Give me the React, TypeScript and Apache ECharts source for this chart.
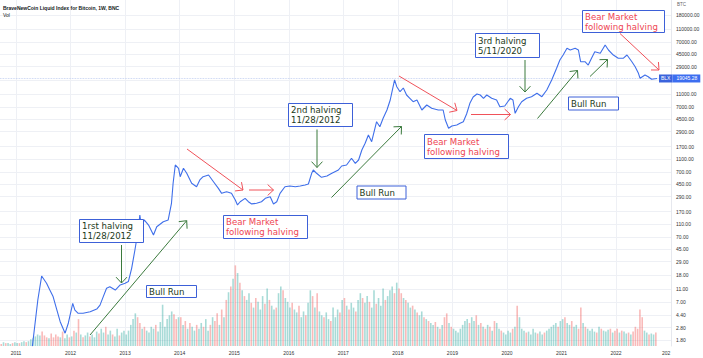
import React, { useEffect, useRef } from "react";
import * as echarts from "echarts";

// Weekly close line of the BraveNewCoin Liquid Index (decimal year, USD)
const priceDates = [
  2011.30, 2011.40, 2011.47, 2011.56, 2011.62, 2011.68, 2011.75, 2011.81, 2011.90, 2011.96,
  2012.04, 2012.08, 2012.14, 2012.23, 2012.36, 2012.48, 2012.54, 2012.60, 2012.66, 2012.72,
  2012.82, 2012.91, 2013.00, 2013.06, 2013.12, 2013.18, 2013.24, 2013.27, 2013.30, 2013.35,
  2013.43, 2013.52, 2013.58, 2013.70, 2013.79, 2013.85, 2013.88, 2013.92, 2013.98, 2014.01,
  2014.07, 2014.13, 2014.22, 2014.31, 2014.37, 2014.43, 2014.53, 2014.62, 2014.71, 2014.77,
  2014.86, 2014.95, 2015.02, 2015.06, 2015.11, 2015.20, 2015.26, 2015.32, 2015.41, 2015.50,
  2015.57, 2015.66, 2015.72, 2015.78, 2015.84, 2015.93, 2016.02, 2016.12, 2016.21, 2016.30,
  2016.36, 2016.42, 2016.45, 2016.51, 2016.60, 2016.70, 2016.79, 2016.91, 2016.97, 2017.06,
  2017.15, 2017.22, 2017.28, 2017.34, 2017.40, 2017.46, 2017.52, 2017.61, 2017.67, 2017.73,
  2017.80, 2017.86, 2017.90, 2017.94, 2017.98, 2018.04, 2018.10, 2018.16, 2018.22, 2018.28,
  2018.35, 2018.44, 2018.53, 2018.62, 2018.74, 2018.83, 2018.87, 2018.93, 2018.99, 2019.08,
  2019.14, 2019.20, 2019.26, 2019.32, 2019.38, 2019.45, 2019.51, 2019.57, 2019.63, 2019.72,
  2019.81, 2019.87, 2019.96, 2020.06, 2020.11, 2020.15, 2020.21, 2020.27, 2020.36, 2020.45,
  2020.55, 2020.64, 2020.73, 2020.82, 2020.91, 2020.97, 2021.03, 2021.10, 2021.16, 2021.25,
  2021.31, 2021.35, 2021.43, 2021.49, 2021.55, 2021.61, 2021.71, 2021.80, 2021.86, 2021.95,
  2022.04, 2022.13, 2022.20, 2022.29, 2022.35, 2022.41, 2022.44, 2022.53, 2022.59, 2022.65,
  2022.75,
];
const prices = [
  1.45, 7.45, 17.4, 13.5, 10.6, 8.4, 5.2, 3.45, 2.3, 3.3,
  6.6, 5.2, 4.65, 4.65, 4.9, 5.4, 6.2, 8.4, 11.3, 11.9,
  10.6, 12.7, 13.5, 14.3, 22.9, 43.8, 89, 151, 100, 127,
  106, 74.5, 100, 119, 127, 229, 465, 890, 791, 588,
  791, 663, 465, 412, 523, 588, 624, 492, 389, 326,
  345, 326, 257, 216, 242, 273, 242, 224, 229, 242,
  273, 289, 224, 242, 326, 412, 423, 412, 423, 438,
  454, 663, 745, 663, 575, 602, 663, 745, 859, 890,
  1128, 944, 1062, 1513, 1919, 2575, 2030, 4125, 3453, 4650,
  6240, 8895, 12680, 18070, 14250, 11930, 13600, 10620, 9440, 8380,
  8895, 6240, 7450, 6625, 6240, 6240, 4380, 3265, 3540, 3670,
  3892, 4125, 5420, 7910, 9890, 11000, 10620, 9440, 10620, 9440,
  8895, 7020, 7190, 9440, 8895, 5550, 7020, 8380, 9440, 10000,
  11280, 10000, 12680, 18070, 27350, 36720, 43750, 55480, 52260, 55480,
  52260, 34510, 34510, 30700, 38930, 49220, 46470, 62420, 52260, 43750,
  38930, 38930, 43750, 34510, 28910, 22900, 19190, 21570, 20280, 18530,
  19045.28,
];

// Price-scale tick labels (log scale) and year ticks
const priceTicks = [
  1.8, 2.8, 4.4, 7, 11, 18, 29, 45, 70, 110, 170, 290, 450, 700, 1100, 1700,
  2900, 4500, 7000, 11000, 18000, 29000, 45000, 70000, 110000, 180000,
];
const yearTicks = [2011, 2012, 2013, 2014, 2015, 2016, 2017, 2018, 2019, 2020, 2021, 2022];

// Volume per half-month bucket (relative units); sign: + up week, - down week
const vol2010 = [3, -2, 4, -3, 3, 2, -3, 4]; // from mid-Sep 2010
const vol2011 = [3, -3, 4, 5, -4, 5, 7, 8, 10, 12, 11, -15, -11, -9, 8, -13, -9, -12, -10, 9, -15, 8, 12, -9];
const vol2012 = [10, -16, 14, -28, 12, -9, 11, 14, -10, 12, 9, 15, -13, 18, 14, -20, 12, 16, -12, 10, 18, -11, 14, 16];
const vol2013 = [12, 16, 22, 28, 34, -30, -24, 18, -20, 16, 14, 20, 18, -22, 15, 25, 43, 20, 28, 32, 36, -33, -28, 30];
const vol2014 = [-30, 22, -26, 18, -24, 20, 16, -22, 18, 24, -20, 28, 16, -22, 30, -26, -34, 22, -38, 30, -48, 56, -62, 70];
const vol2015 = [-84, 76, -66, 58, -52, 48, 55, -45, 40, -50, 46, 38, 52, -44, 60, -48, 42, 38, -40, 55, 62, -58, 50, 46];
const vol2016 = [40, -45, 38, 35, -42, 30, 36, -32, 45, 58, -52, 40, -55, 36, 32, -30, 35, 28, -26, 40, 30, 38, -35, 48];
const vol2017 = [-50, 42, -38, 45, 40, -36, 48, 55, -50, 45, 52, -46, 40, 58, -44, 50, 42, 60, -48, 52, 58, 62, -55, 66];
const vol2018 = [-60, -55, 50, -48, 45, 40, -42, 38, -35, 32, 36, -30, 28, -26, 24, 22, -25, 20, -18, 22, -30, -34, 24, -20];
const vol2019 = [18, 16, 14, 18, 22, 26, 28, -24, 30, 26, -32, 22, -24, 20, -18, 22, -20, 16, -26, 24, 18, -16, 14, 12];
const vol2020 = [16, 14, -18, 20, -42, 30, 18, 16, -14, 15, 12, 18, 14, -13, 15, 12, -14, 16, 18, 20, 22, 24, -20, 26];
const vol2021 = [28, -30, 24, 22, -26, 20, 22, -18, -40, 24, -20, 18, 16, 18, 15, -14, 20, -18, 16, 15, 17, -18, 14, -16];
const vol2022 = [-18, 14, -16, 15, 13, -14, 12, -15, -20, -18, -38, -30, 16, 14, -12, 13, 12, -14];

const volumeYears: [number, number, number[]][] = [
  [2010, 16, vol2010], [2011, 0, vol2011], [2012, 0, vol2012], [2013, 0, vol2013],
  [2014, 0, vol2014], [2015, 0, vol2015], [2016, 0, vol2016], [2017, 0, vol2017],
  [2018, 0, vol2018], [2019, 0, vol2019], [2020, 0, vol2020], [2021, 0, vol2021],
  [2022, 0, vol2022],
];

const X_MIN = 2010.7067;
const X_MAX = 2023.007;
const PRICE_MIN = 1.46;
const PRICE_MAX = 307300;

const BOX = "#3d60d8";
const RED = "#ee4452";
const RED_ARROW = "#f0525a";
const GREEN_TEXT = "#1c3a20";
const GREEN_ARROW = "#3b7a3d";
const FONT = '"DejaVu Sans", Verdana, sans-serif';
const SMALL = "Liberation Sans, Arial, sans-serif";

function arrow(x1: number, y1: number, x2: number, y2: number, color: string) {
  const ang = Math.atan2(y2 - y1, x2 - x1);
  const len = 8;
  const spread = 0.75;
  const p1 = [x2 - len * Math.cos(ang - spread), y2 - len * Math.sin(ang - spread)];
  const p2 = [x2 - len * Math.cos(ang + spread), y2 - len * Math.sin(ang + spread)];
  return [
    { type: "line", z: 100, silent: true, shape: { x1, y1, x2, y2 }, style: { stroke: color, lineWidth: 1 } },
    { type: "polyline", z: 100, silent: true, shape: { points: [p1, [x2, y2], p2] }, style: { stroke: color, fill: null, lineWidth: 1 } },
  ];
}

function callout(x: number, y: number, w: number, h: number, text: string, color: string) {
  return [
    { type: "rect", z: 100, silent: true, shape: { x: x + 0.5, y: y + 0.5, width: w, height: h }, style: { fill: "#ffffff", stroke: BOX, lineWidth: 1 } },
    {
      type: "text", z: 101, silent: true, x: x + 3, y: y + h / 2 + 0.5,
      style: { text, fill: color, fontSize: 8.6, fontFamily: FONT, align: "left", verticalAlign: "middle", lineHeight: 10 },
    },
  ];
}

export default function App() {
  const ref = useRef<HTMLDivElement>(null);
  useEffect(() => {
    if (!ref.current) return;
    const chart = echarts.init(ref.current, undefined, { renderer: "svg" });
    const last = prices[prices.length - 1];
    const lineData = priceDates.map((d, i) => [d, Math.log10(prices[i])]);
    const volData: any[] = [];
    volumeYears.forEach(([yr, off, arr]) => {
      arr.forEach((v, k) => {
        volData.push({
          value: [yr + (k + off + 0.5) / 24, Math.abs(v)],
          itemStyle: { color: v >= 0 ? "rgba(38,166,154,0.4)" : "rgba(239,83,80,0.4)" },
        });
      });
    });
    const tickLogs = priceTicks.map((v) => Math.log10(v));
    // the label hidden behind the last-price tag
    const labelLogs = tickLogs.filter((l) => Math.abs(l - Math.log10(last)) > 0.06);

    const elements: any[] = [
      ...callout(79, 219, 64, 23, "1rst halving\n11/28/2012", GREEN_TEXT),
      ...arrow(121.5, 245, 121.5, 283, GREEN_ARROW),
      ...arrow(90, 335, 186.7, 220.7, GREEN_ARROW),
      ...callout(146, 285, 50, 12, "Bull Run", GREEN_TEXT),
      ...arrow(187, 149, 243, 190, RED_ARROW),
      ...arrow(249, 190, 273.5, 190, RED_ARROW),
      ...callout(223, 215, 84, 23, "Bear Market\nfollowing halving", RED),
      ...callout(288, 103, 64, 23, "2nd halving\n11/28/2012", GREEN_TEXT),
      ...arrow(317, 129.5, 317, 167.5, GREEN_ARROW),
      ...arrow(331.5, 197.5, 401.5, 126.5, GREEN_ARROW),
      ...callout(356.5, 185.5, 49, 13, "Bull Run", GREEN_TEXT),
      ...arrow(399, 76, 457, 110.5, RED_ARROW),
      ...arrow(471, 114.5, 510.5, 114.5, RED_ARROW),
      ...callout(424, 134, 84, 24, "Bear Market\nfollowing halving", RED),
      ...callout(475, 33, 64, 24, "3rd halving\n5/11/2020", GREEN_TEXT),
      ...arrow(525, 60, 525, 92, GREEN_ARROW),
      ...arrow(537.5, 118.5, 577.5, 70.5, GREEN_ARROW),
      ...arrow(590, 76.5, 607.5, 59.5, GREEN_ARROW),
      ...callout(568, 96.5, 50, 13, "Bull Run", GREEN_TEXT),
      ...callout(582, 10, 82, 22, "Bear Market\nfollowing halving", RED),
      ...arrow(620, 33.5, 659, 70, RED_ARROW),
      {
        type: "text", z: 101, silent: true, x: 3, y: 7.5,
        style: { text: "BraveNewCoin Liquid Index for Bitcoin, 1W, BNC", fill: "#131722", fontSize: 5, fontWeight: "bold", fontFamily: SMALL, verticalAlign: "middle" },
      },
      {
        type: "text", z: 101, silent: true, x: 3, y: 14.5,
        style: { text: "Vol", fill: "#131722", fontSize: 5, fontFamily: SMALL, verticalAlign: "middle" },
      },
      {
        type: "text", z: 101, silent: true, x: 677, y: 4,
        style: { text: "BTC", fill: "#666", fontSize: 4.5, fontFamily: SMALL, verticalAlign: "middle" },
      },
      {
        type: "text", z: 101, silent: true, x: 662, y: 352.5,
        style: { text: "202", fill: "#333", fontSize: 5, fontFamily: SMALL, verticalAlign: "middle" },
      },
    ];

    chart.setOption({
      animation: false,
      backgroundColor: "#ffffff",
      grid: [
        { left: 0, right: 32, top: 0, bottom: 12 },
        { left: 0, right: 32, top: 250, bottom: 12 },
      ],
      xAxis: [
        {
          type: "value", gridIndex: 0, min: X_MIN, max: X_MAX,
          axisLine: { show: false },
          axisTick: { show: false, customValues: yearTicks },
          splitLine: { show: true, lineStyle: { color: "#eef0f5", width: 1 } },
          axisLabel: {
            customValues: yearTicks, formatter: (v: number) => String(Math.round(v)),
            fontSize: 5, color: "#333", margin: 4, fontFamily: SMALL,
          },
        },
        {
          type: "value", gridIndex: 1, min: X_MIN, max: X_MAX, show: false,
          splitLine: { show: false },
        },
      ],
      yAxis: [
        {
          type: "value", gridIndex: 0, position: "right",
          min: Math.log10(PRICE_MIN), max: Math.log10(PRICE_MAX),
          axisLine: { show: true, lineStyle: { color: "#e6e8ee" } },
          axisTick: { show: false, customValues: tickLogs },
          splitLine: { show: true, lineStyle: { color: "#eef0f5", width: 1 } },
          axisLabel: {
            customValues: labelLogs,
            formatter: (v: number) => Math.pow(10, v).toFixed(2),
            fontSize: 5, color: "#333", margin: 5, align: "left",
            fontFamily: SMALL,
          },
        },
        {
          type: "value", gridIndex: 1, min: 0, max: 100, show: false,
          splitLine: { show: false },
        },
      ],
      series: [
        {
          type: "bar", xAxisIndex: 1, yAxisIndex: 1, data: volData,
          barWidth: 1.6, silent: true, z: 1,
        },
        {
          type: "line", xAxisIndex: 0, yAxisIndex: 0, data: lineData,
          showSymbol: false, symbol: "none", z: 5,
          lineStyle: { color: "#3f6fea", width: 1.1 },
          markLine: {
            silent: true, symbol: ["none", "none"],
            lineStyle: { type: "dotted", color: "#b9c8ef", width: 0.8 },
            label: {
              show: true, position: "end", distance: -12,
              formatter: "{a|BLX}{b|" + last.toFixed(2) + "}",
              rich: {
                a: { backgroundColor: "#3b63dc", color: "#fff", fontSize: 5, padding: [1.5, 2, 1.5, 2], fontFamily: SMALL },
                b: { backgroundColor: "#3d6ef0", color: "#fff", fontSize: 5, padding: [1.5, 3, 1.5, 4], fontFamily: SMALL },
              },
            },
            data: [{ yAxis: Math.log10(last) }],
          },
        },
      ],
      graphic: { elements },
    });
    return () => chart.dispose();
  }, []);
  return (
    <div
      ref={ref}
      style={{ position: "absolute", left: 0, top: 0, width: 703, height: 358, background: "#fff" }}
    />
  );
}
